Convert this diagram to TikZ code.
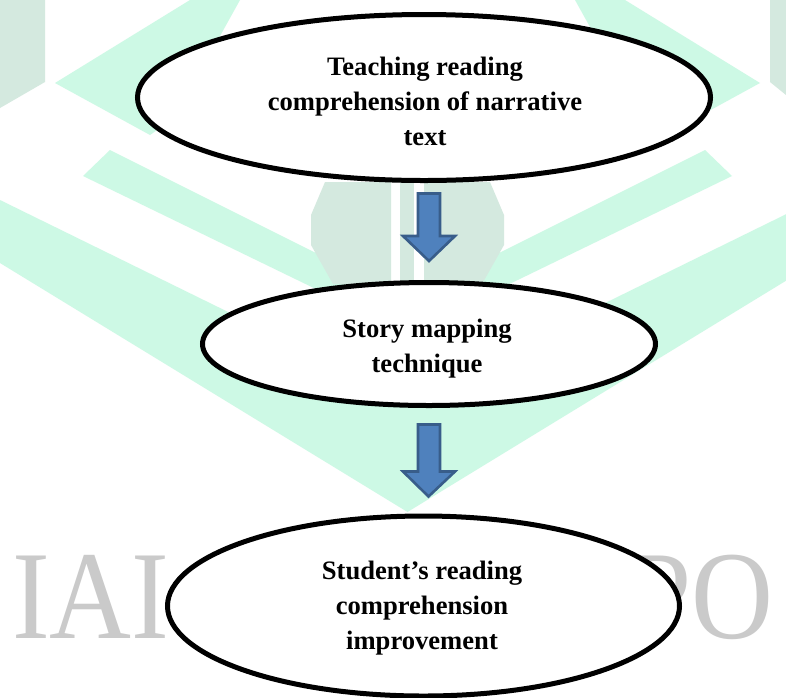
\documentclass[tikz,border=0pt]{standalone}
\usepackage{fontspec}
\setmainfont{Liberation Serif}
\usetikzlibrary{shapes.geometric,calc}
\definecolor{mint}{RGB}{205,249,229}
\definecolor{sage}{RGB}{212,233,223}
\definecolor{wmgray}{RGB}{202,202,202}
\definecolor{arrowfill}{RGB}{79,129,189}
\definecolor{arrowdraw}{RGB}{56,93,138}
\newcommand\drawblockarrow[2]{%
  \draw[blkarrow] let \p1=(#1), \p2=(#2) in
    (\x1-11pt,\y1) -- (\x1+11pt,\y1) -- (\x1+11pt,\y2+25pt) -- (\x1+26pt,\y2+25pt)
    -- (\x2,\y2) -- (\x1-26pt,\y2+25pt) -- (\x1-11pt,\y2+25pt) -- cycle;}
\begin{document}
\begin{tikzpicture}[x=1pt,y=-1pt,
  bubble/.style={ellipse, draw=black, line width=5pt, fill=white, inner sep=0pt},
  bubbletext/.style={align=center, font=\fontsize{26.6}{35}\selectfont\bfseries, inner sep=0pt},
  wmletters/.style={text=wmgray, font=\fontsize{126}{126}\selectfont, inner sep=0pt, anchor=base west, xscale=0.9},
  blkarrow/.style={fill=arrowfill, draw=arrowdraw, line width=2.6pt, line join=miter}]
\useasboundingbox (0,0) rectangle (786,697);
\fill[white] (0,0) rectangle (786,697);
% watermark
\begin{scope}
\clip (0,0) rectangle (786,697);
\fill[sage] (0,0) -- (45,0) -- (45,82) -- (0,108) -- cycle;
\fill[sage] (786,0) -- (770,0) -- (770,82) -- (786,95) -- cycle;
\fill[mint] (55,83) -- (190,0) -- (240,0) -- (215,45) -- (200,100) -- (150,135) -- cycle;
\fill[mint] (760,83) -- (625,0) -- (575,0) -- (600,45) -- (615,100) -- (665,135) -- cycle;
\fill[mint] (110,150) -- (390,290) -- (390,325) -- (83,176) -- cycle;
\fill[mint] (705,150) -- (425,290) -- (425,325) -- (732,176) -- cycle;
\fill[mint] (0,200) -- (407.5,400) -- (815,200) -- (815,263) -- (407.5,512) -- (0,263) -- cycle;
\fill[sage] (325,182) -- (391,182) -- (391,284) -- (333,284) -- (311,245) -- (311,215) -- cycle;
\fill[sage] (400,182) -- (414,182) -- (414,284) -- (400,284) -- cycle;
\fill[sage] (490,182) -- (424,182) -- (424,284) -- (482,284) -- (504,245) -- (504,215) -- cycle;
\node[wmletters] (wmL) at (12,638) {IAI};
\node[wmletters] (wmR) at (628,638) {PO};
\end{scope}
% diagram
\node[bubble, minimum width=573pt, minimum height=166pt] (e1) at (424,97.5) {};
\node[bubbletext] (t1) at (425,101) {Teaching reading\\comprehension of narrative\\text};
\node[bubble, minimum width=453pt, minimum height=123pt] (e2) at (429,344) {};
\node[bubbletext] (t2) at (427,348.3) {Story mapping\\technique};
\node[bubble, minimum width=512pt, minimum height=180pt] (e3) at (423.5,606) {};
\node[bubbletext] (t3) at (422,607.8) {Student’s reading\\comprehension\\improvement};
\coordinate (a1s) at ($(e1.south)+(5,10.5)$);
\coordinate (a1e) at ($(e2.north)+(0,-19)$);
\coordinate (a2s) at ($(e2.south)+(0,16.5)$);
\coordinate (a2e) at ($(e3.north)+(5,-17)$);
\drawblockarrow{a1s}{a1e}
\drawblockarrow{a2s}{a2e}
\end{tikzpicture}
\end{document}
